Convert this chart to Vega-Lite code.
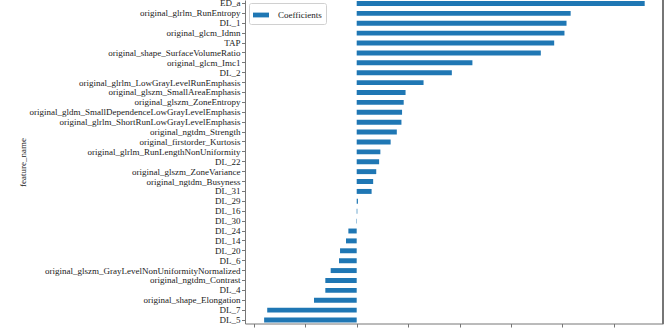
{
  "$schema": "https://vega.github.io/schema/vega-lite/v6.json",
  "autosize": {"type": "none"},
  "width": 418,
  "height": 323.5,
  "padding": {"left": 245, "top": 0, "right": 6, "bottom": 7},
  "background": "white",
  "config": {
    "view": {"stroke": null},
    "font": "Liberation Serif",
    "axis": {
      "labelFont": "Liberation Serif",
      "titleFont": "Liberation Serif",
      "labelFontSize": 9,
      "titleFontSize": 9,
      "titleFontWeight": "normal",
      "labelColor": "#222",
      "titleColor": "#222",
      "domainColor": "#777",
      "tickColor": "#777",
      "tickSize": 3.5,
      "labelLimit": 0,
      "grid": false
    }
  },
  "data": {
    "values": [
      {"feature_name": "ED_a", "coef": 0.280, "series": "Coefficients"},
      {"feature_name": "original_glrlm_RunEntropy", "coef": 0.208, "series": "Coefficients"},
      {"feature_name": "DL_1", "coef": 0.204, "series": "Coefficients"},
      {"feature_name": "original_glcm_Idmn", "coef": 0.202, "series": "Coefficients"},
      {"feature_name": "TAP", "coef": 0.192, "series": "Coefficients"},
      {"feature_name": "original_shape_SurfaceVolumeRatio", "coef": 0.179, "series": "Coefficients"},
      {"feature_name": "original_glcm_Imc1", "coef": 0.1125, "series": "Coefficients"},
      {"feature_name": "DL_2", "coef": 0.0925, "series": "Coefficients"},
      {"feature_name": "original_glrlm_LowGrayLevelRunEmphasis", "coef": 0.065, "series": "Coefficients"},
      {"feature_name": "original_glszm_SmallAreaEmphasis", "coef": 0.0475, "series": "Coefficients"},
      {"feature_name": "original_glszm_ZoneEntropy", "coef": 0.0457, "series": "Coefficients"},
      {"feature_name": "original_gldm_SmallDependenceLowGrayLevelEmphasis", "coef": 0.0441, "series": "Coefficients"},
      {"feature_name": "original_glrlm_ShortRunLowGrayLevelEmphasis", "coef": 0.0435, "series": "Coefficients"},
      {"feature_name": "original_ngtdm_Strength", "coef": 0.039, "series": "Coefficients"},
      {"feature_name": "original_firstorder_Kurtosis", "coef": 0.033, "series": "Coefficients"},
      {"feature_name": "original_glrlm_RunLengthNonUniformity", "coef": 0.023, "series": "Coefficients"},
      {"feature_name": "DL_22", "coef": 0.0218, "series": "Coefficients"},
      {"feature_name": "original_glszm_ZoneVariance", "coef": 0.019, "series": "Coefficients"},
      {"feature_name": "original_ngtdm_Busyness", "coef": 0.016, "series": "Coefficients"},
      {"feature_name": "DL_31", "coef": 0.0145, "series": "Coefficients"},
      {"feature_name": "DL_29", "coef": 0.0012, "series": "Coefficients"},
      {"feature_name": "DL_16", "coef": 0.0006, "series": "Coefficients"},
      {"feature_name": "DL_30", "coef": -0.0004, "series": "Coefficients"},
      {"feature_name": "DL_24", "coef": -0.0081, "series": "Coefficients"},
      {"feature_name": "DL_14", "coef": -0.0104, "series": "Coefficients"},
      {"feature_name": "DL_20", "coef": -0.0162, "series": "Coefficients"},
      {"feature_name": "DL_6", "coef": -0.0172, "series": "Coefficients"},
      {"feature_name": "original_glszm_GrayLevelNonUniformityNormalized", "coef": -0.0253, "series": "Coefficients"},
      {"feature_name": "original_ngtdm_Contrast", "coef": -0.0305, "series": "Coefficients"},
      {"feature_name": "DL_4", "coef": -0.0305, "series": "Coefficients"},
      {"feature_name": "original_shape_Elongation", "coef": -0.0415, "series": "Coefficients"},
      {"feature_name": "DL_7", "coef": -0.087, "series": "Coefficients"},
      {"feature_name": "DL_5", "coef": -0.090, "series": "Coefficients"}
    ]
  },
  "layer": [
    {
      "mark": {"type": "bar"},
      "encoding": {
        "y": {
          "field": "feature_name",
          "type": "nominal",
          "sort": null,
          "title": "feature_name",
          "scale": {"paddingInner": 0.5, "paddingOuter": 0.1},
          "axis": {
            "labelPadding": 1.5,
            "titleX": -223,
            "titleY": 162,
            "titleAngle": -90,
            "titleAlign": "center",
            "titleBaseline": "middle"
          }
        },
        "x": {
          "field": "coef",
          "type": "quantitative",
          "title": null,
          "scale": {"domain": [-0.1086, 0.2978], "nice": false, "zero": false},
          "axis": {"values": [-0.10, -0.05, 0, 0.05, 0.10, 0.15, 0.20, 0.25], "format": ".2f", "labelPadding": 3}
        },
        "color": {
          "field": "series",
          "type": "nominal",
          "title": null,
          "scale": {"range": ["#1f77b4"]},
          "legend": {
            "orient": "none",
            "legendX": 4,
            "legendY": 3,
            "symbolType": "M-1,-0.3H1V0.3H-1Z",
            "symbolSize": 256,
            "symbolStrokeWidth": 0,
            "labelFont": "Liberation Serif",
            "labelFontSize": 9,
            "labelColor": "#222",
            "labelOffset": 9,
            "padding": 4,
            "strokeColor": "#d0d0d0",
            "cornerRadius": 2,
            "fillColor": "white"
          }
        }
      }
    },
    {
      "mark": {"type": "rule", "color": "#777", "strokeWidth": 1},
      "encoding": {"x": {"datum": 0.2978, "type": "quantitative"}}
    }
  ]
}
